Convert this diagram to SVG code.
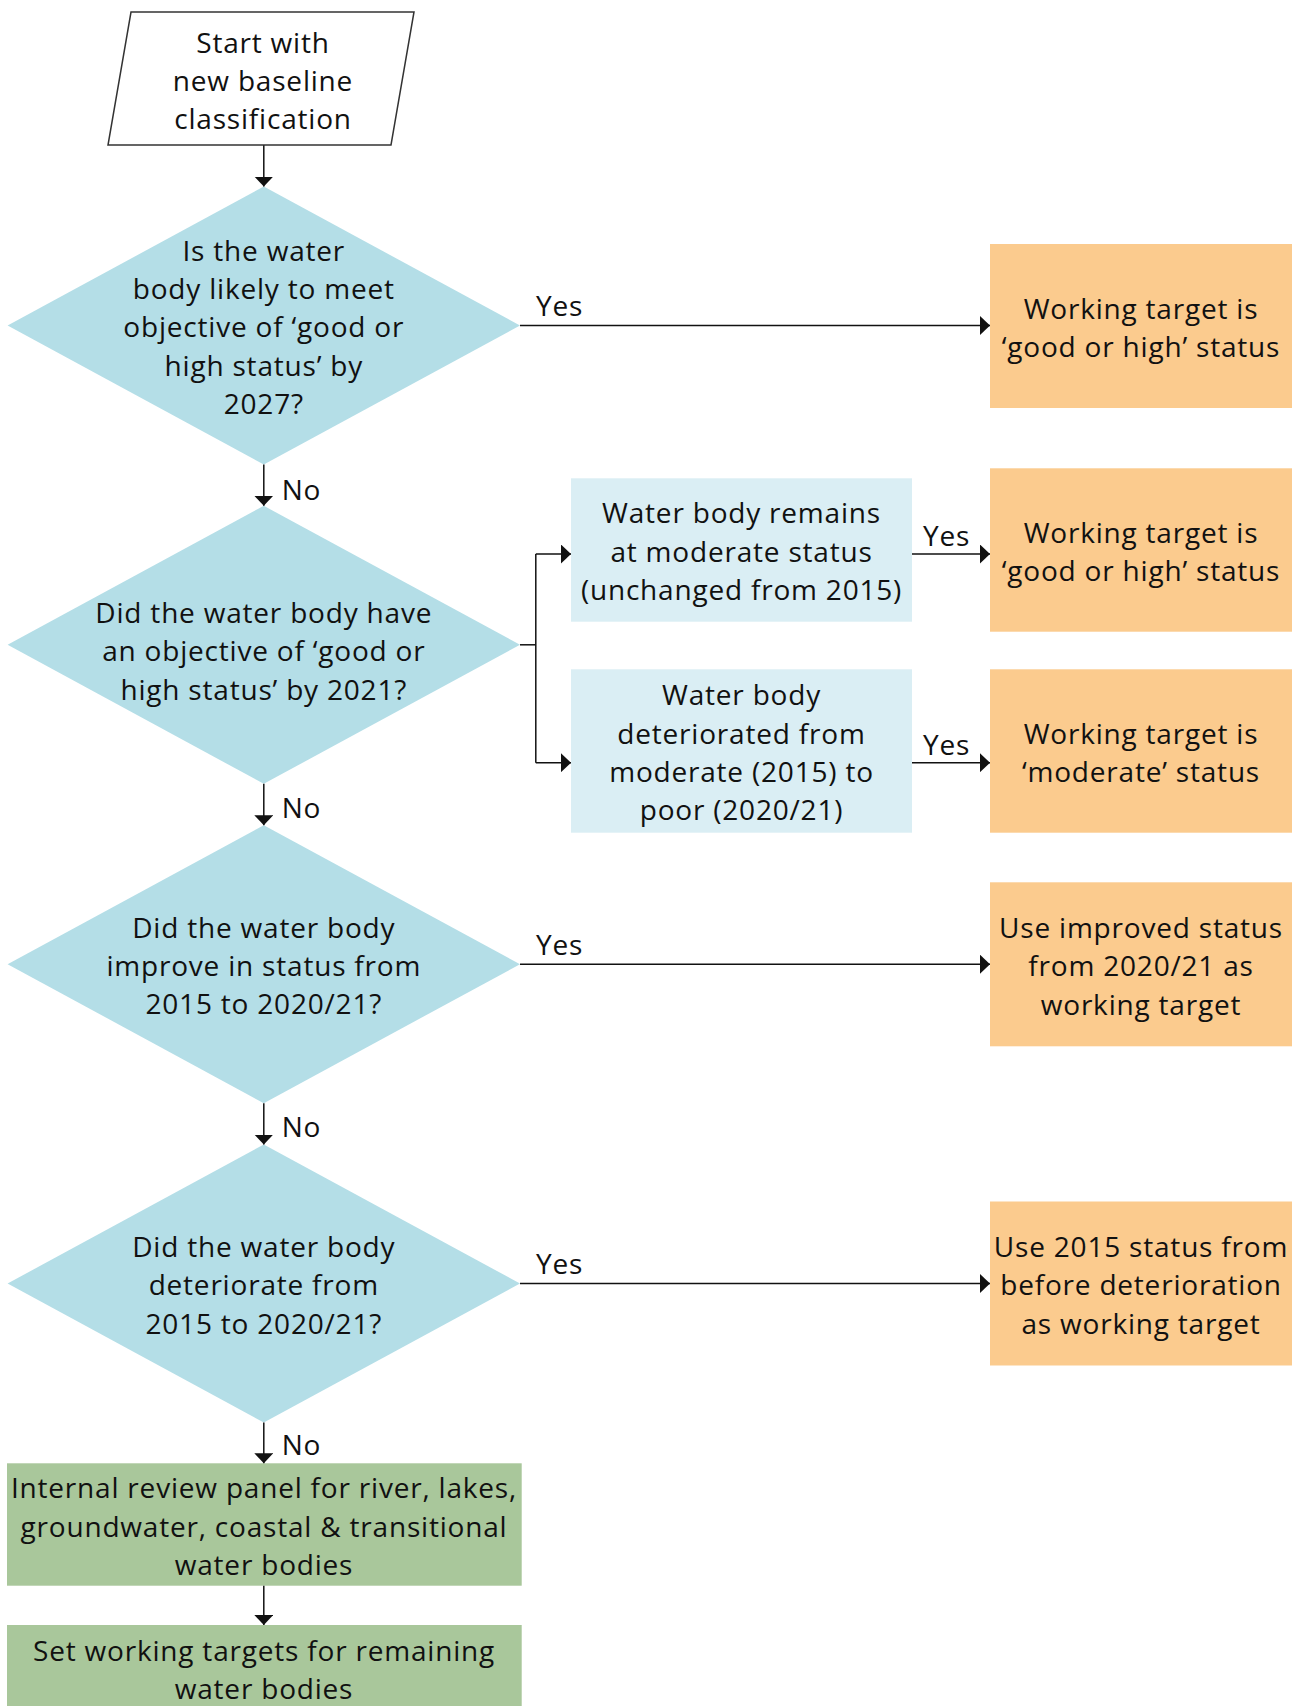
<svg xmlns="http://www.w3.org/2000/svg" width="1301" height="1706" viewBox="0 0 1301 1706">
<defs>
<style>
text{font-family:"Open Sans","Liberation Sans",sans-serif;font-size:28px;letter-spacing:0.8px;fill:#111;}
.c{text-anchor:middle;}
.dia{fill:#b4dee7;}
.lb{fill:#daeef4;}
.or{fill:#fbcb8e;}
.gr{fill:#a9c79b;}
.par{fill:#fff;stroke:#333;stroke-width:1.5;}
.ln{fill:none;stroke:#111;stroke-width:1.5;}
</style>
<marker id="ah" viewBox="0 0 10 19" refX="10" refY="9.5" markerWidth="10" markerHeight="19" markerUnits="userSpaceOnUse" orient="auto">
<path d="M0,0 L10,9.5 L0,19 z" fill="#111"/>
</marker>
</defs>
<rect width="1301" height="1706" fill="#fff"/>

<g id="start">
<polygon class="par" points="131,12 414,12 391,145 108,145"/>
<text class="c"><tspan x="263" y="53.2">Start with</tspan><tspan x="263" y="91.2">new baseline</tspan><tspan x="263" y="129.2">classification</tspan></text>
</g>

<g id="d1">
<polygon class="dia" points="263.8,186.5 520,325.5 263.8,464.5 7.6,325.5"/>
<text class="c"><tspan x="263.8" y="260.5">Is the water</tspan><tspan x="263.8" y="298.9">body likely to meet</tspan><tspan x="263.8" y="337.3">objective of ‘good or</tspan><tspan x="263.8" y="375.7">high status’ by</tspan><tspan x="263.8" y="414.1">2027?</tspan></text>
</g>

<g id="d2">
<polygon class="dia" points="263.8,505.8 520,644.8 263.8,783.8 7.6,644.8"/>
<text class="c"><tspan x="263.8" y="622.9">Did the water body have</tspan><tspan x="263.8" y="661.3">an objective of ‘good or</tspan><tspan x="263.8" y="699.7">high status’ by 2021?</tspan></text>
</g>

<g id="d3">
<polygon class="dia" points="263.8,825.2 520,964.2 263.8,1103.2 7.6,964.2"/>
<text class="c"><tspan x="263.8" y="937.6">Did the water body</tspan><tspan x="263.8" y="976">improve in status from</tspan><tspan x="263.8" y="1014.4">2015 to 2020/21?</tspan></text>
</g>

<g id="d4">
<polygon class="dia" points="263.8,1144.5 520,1283.5 263.8,1422.5 7.6,1283.5"/>
<text class="c"><tspan x="263.8" y="1256.8">Did the water body</tspan><tspan x="263.8" y="1295.3">deteriorate from</tspan><tspan x="263.8" y="1333.8">2015 to 2020/21?</tspan></text>
</g>

<g id="g1">
<rect class="gr" x="7" y="1463.3" width="514.7" height="122.4"/>
<text class="c"><tspan x="264" y="1498.1">Internal review panel for river, lakes,</tspan><tspan x="264" y="1536.5">groundwater, coastal &amp; transitional</tspan><tspan x="264" y="1574.9">water bodies</tspan></text>
</g>

<g id="g2">
<rect class="gr" x="7" y="1625" width="514.7" height="90"/>
<text class="c"><tspan x="264" y="1660.6">Set working targets for remaining</tspan><tspan x="264" y="1699">water bodies</tspan></text>
</g>

<g id="ba">
<rect class="lb" x="571" y="478.3" width="341" height="143.4"/>
<text class="c"><tspan x="741.5" y="523.4">Water body remains</tspan><tspan x="741.5" y="561.8">at moderate status</tspan><tspan x="741.5" y="600.2">(unchanged from 2015)</tspan></text>
</g>

<g id="bb">
<rect class="lb" x="571" y="669.3" width="341" height="163.4"/>
<text class="c"><tspan x="741.5" y="705.2">Water body</tspan><tspan x="741.5" y="743.6">deteriorated from</tspan><tspan x="741.5" y="782">moderate (2015) to</tspan><tspan x="741.5" y="820.4">poor (2020/21)</tspan></text>
</g>

<g id="o1">
<rect class="or" x="990" y="244" width="302" height="164"/>
<text class="c"><tspan x="1141" y="318.6">Working target is</tspan><tspan x="1141" y="357">‘good or high’ status</tspan></text>
</g>

<g id="o2">
<rect class="or" x="990" y="468.3" width="302" height="163.4"/>
<text class="c"><tspan x="1141" y="542.6">Working target is</tspan><tspan x="1141" y="581">‘good or high’ status</tspan></text>
</g>

<g id="o3">
<rect class="or" x="990" y="669.3" width="302" height="163.4"/>
<text class="c"><tspan x="1141" y="743.6">Working target is</tspan><tspan x="1141" y="782">‘moderate’ status</tspan></text>
</g>

<g id="o4">
<rect class="or" x="990" y="882.3" width="302" height="164"/>
<text class="c"><tspan x="1141" y="937.8">Use improved status</tspan><tspan x="1141" y="976.2">from 2020/21 as</tspan><tspan x="1141" y="1014.6">working target</tspan></text>
</g>

<g id="o5">
<rect class="or" x="990" y="1201.5" width="302" height="164"/>
<text class="c"><tspan x="1141" y="1256.8">Use 2015 status from</tspan><tspan x="1141" y="1295.3">before deterioration</tspan><tspan x="1141" y="1333.8">as working target</tspan></text>
</g>

<g id="connectors">
<path class="ln" d="M263.8,145.3 V186.5" marker-end="url(#ah)"/>
<path class="ln" d="M263.8,464.5 V505.8" marker-end="url(#ah)"/>
<path class="ln" d="M263.8,783.8 V825.2" marker-end="url(#ah)"/>
<path class="ln" d="M263.8,1103.2 V1144.5" marker-end="url(#ah)"/>
<path class="ln" d="M263.8,1422.5 V1463.3" marker-end="url(#ah)"/>
<path class="ln" d="M263.8,1585.7 V1625" marker-end="url(#ah)"/>
<path class="ln" d="M520,325.5 H990" marker-end="url(#ah)"/>
<path class="ln" d="M520,964.2 H990" marker-end="url(#ah)"/>
<path class="ln" d="M520,1283.5 H990" marker-end="url(#ah)"/>
<path class="ln" d="M520,644.8 H535.8"/>
<path class="ln" d="M535.8,554 V762.7"/>
<path class="ln" d="M535.8,554 H571" marker-end="url(#ah)"/>
<path class="ln" d="M535.8,762.7 H571" marker-end="url(#ah)"/>
<path class="ln" d="M912,554 H990" marker-end="url(#ah)"/>
<path class="ln" d="M912,762.7 H990" marker-end="url(#ah)"/>
<text x="281.7" y="500">No</text>
<text x="281.7" y="818">No</text>
<text x="281.7" y="1136.5">No</text>
<text x="281.7" y="1455">No</text>
<text x="536" y="315.5">Yes</text>
<text x="536" y="955">Yes</text>
<text x="536" y="1274">Yes</text>
<text x="923" y="546">Yes</text>
<text x="923" y="754.5">Yes</text>
</g>
</svg>
